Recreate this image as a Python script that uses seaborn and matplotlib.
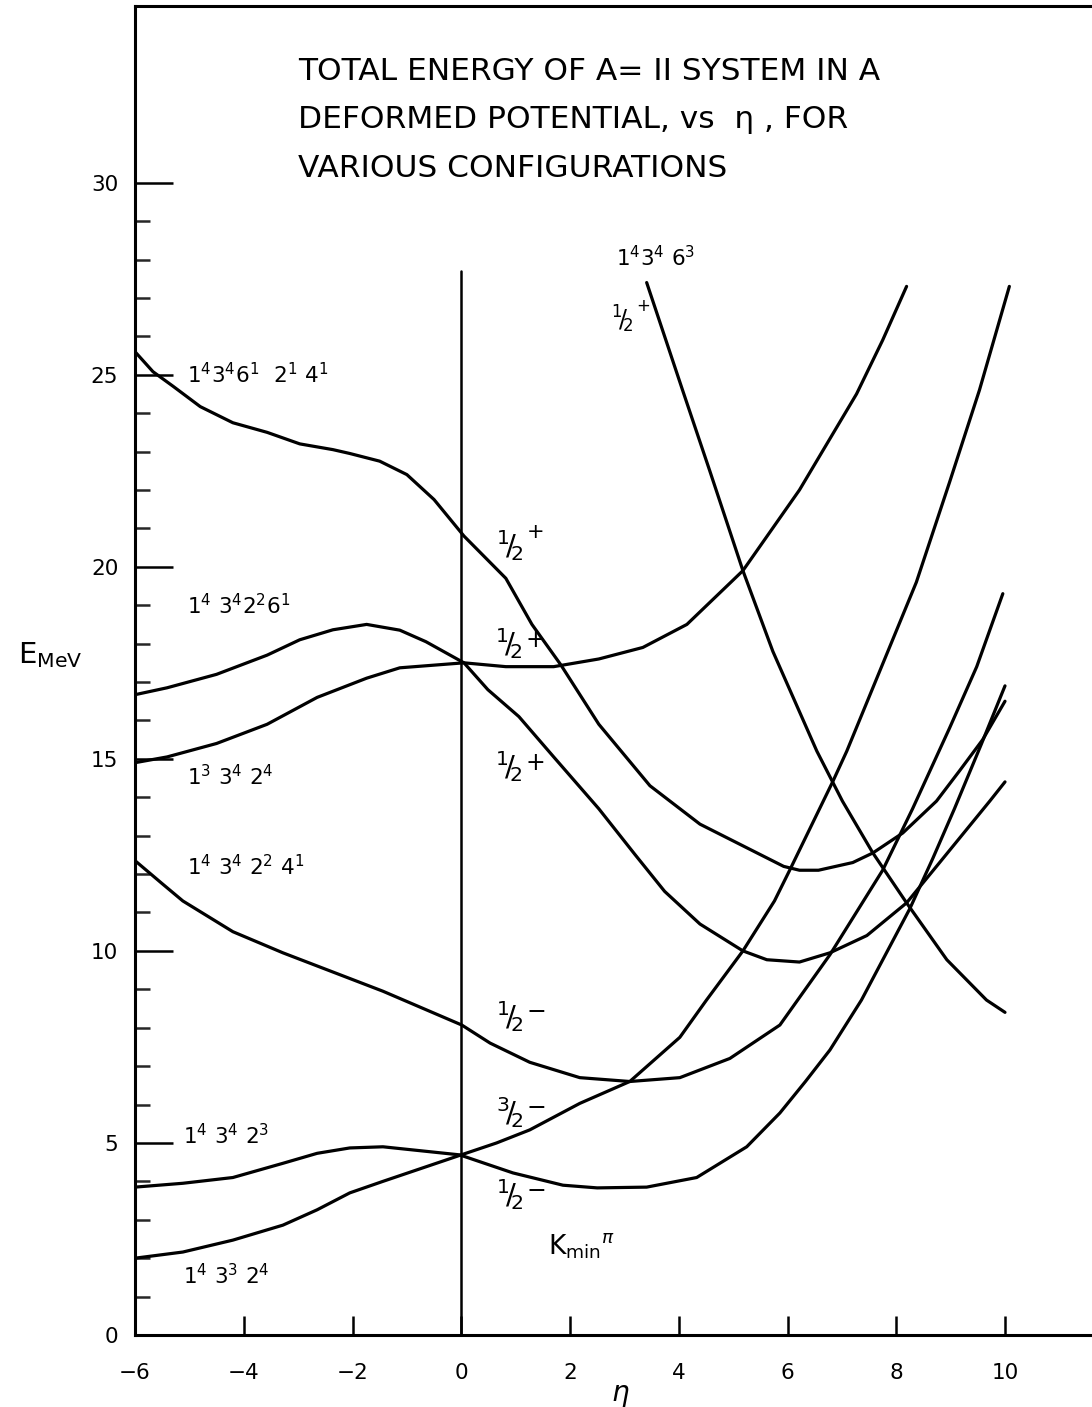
import numpy as np
import pandas as pd
import matplotlib
matplotlib.use("Agg")
import matplotlib.pyplot as plt
import seaborn as sns

# ---- configuration curves: deformation eta vs total energy E (MeV) ----
eta_A = [-6.0, -5.67, -5.3, -4.8, -4.2, -3.57, -2.97, -2.36, -2.05, -1.5, -1.0, -0.5,
         0.05, 0.82, 1.3, 1.83, 2.53, 3.47, 4.39, 5.3, 5.93, 6.22, 6.57, 7.2, 7.57, 8.12,
         8.74, 9.17, 9.59, 10.0]
E_A = [25.6, 25.08, 24.7, 24.17, 23.75, 23.5, 23.2, 23.05, 22.95, 22.75, 22.4, 21.75,
       20.8, 19.7, 18.5, 17.45, 15.9, 14.3, 13.3, 12.65, 12.2, 12.1, 12.1, 12.3, 12.55, 13.07,
       13.9, 14.7, 15.5, 16.5]

eta_B = [-6.0, -5.41, -4.5, -3.57, -2.97, -2.36, -1.74, -1.13, -0.65, 0.05, 0.49, 1.06,
         1.7, 2.53, 3.2, 3.74, 4.39, 5.18, 5.62, 6.22, 6.78, 7.46, 8.19, 8.74, 9.72, 10.0]
E_B = [16.67, 16.85, 17.2, 17.7, 18.1, 18.36, 18.5, 18.35, 18.05, 17.5, 16.8, 16.1,
       15.05, 13.7, 12.5, 11.55, 10.7, 10.0, 9.77, 9.71, 9.95, 10.4, 11.25, 12.2, 13.9, 14.4]

eta_C = [-6.0, -5.41, -4.5, -3.57, -2.65, -1.74, -1.13, 0.05, 0.82, 1.7, 2.53, 3.34,
         4.15, 4.96, 5.18, 6.22, 7.27, 7.75, 8.19]
E_C = [14.9, 15.05, 15.4, 15.9, 16.6, 17.1, 17.37, 17.5, 17.4, 17.4, 17.6, 17.9,
       18.5, 19.6, 19.9, 22.0, 24.5, 25.9, 27.3]

eta_D = [-6.0, -5.5, -5.12, -4.2, -3.28, -2.36, -1.44, 0.01, 0.53, 1.26, 2.18, 3.1,
         4.02, 4.94, 5.86, 6.78, 7.75, 8.3, 8.98, 9.48, 9.96]
E_D = [12.35, 11.75, 11.3, 10.5, 9.95, 9.45, 8.95, 8.07, 7.6, 7.1, 6.7, 6.6,
       6.7, 7.2, 8.07, 9.9, 12.1, 13.7, 15.8, 17.4, 19.3]

eta_E = [-6.0, -5.12, -4.2, -3.28, -2.65, -2.05, -1.44, -0.03, 0.95, 1.87, 2.5, 3.41,
         4.33, 5.25, 5.86, 6.33, 6.78, 7.36, 8.25, 8.67, 9.07, 9.57, 10.0]
E_E = [3.85, 3.95, 4.1, 4.47, 4.73, 4.87, 4.9, 4.69, 4.22, 3.9, 3.83, 3.85,
       4.1, 4.9, 5.78, 6.6, 7.42, 8.72, 11.1, 12.4, 13.7, 15.4, 16.9]

eta_F = [-6.0, -5.12, -4.2, -3.28, -2.65, -2.05, -1.44, 0.0, 0.65, 1.26, 2.18, 3.1,
         4.02, 4.51, 5.18, 5.76, 6.04, 6.83, 7.09, 8.37, 8.98, 9.53, 10.08]
E_F = [2.0, 2.16, 2.47, 2.86, 3.26, 3.7, 4.0, 4.69, 5.0, 5.34, 6.03, 6.6,
       7.75, 8.72, 10.0, 11.3, 12.1, 14.4, 15.2, 19.6, 22.2, 24.6, 27.3]

eta_G = [3.41, 4.07, 4.57, 5.18, 5.73, 6.54, 7.01, 7.57, 8.19, 8.93, 9.66, 10.0]
E_G = [27.4, 24.6, 22.5, 19.9, 17.8, 15.2, 13.9, 12.55, 11.25, 9.77, 8.72, 8.4]

curve_names = ["A", "B", "C", "D", "E", "F", "G"]
curve_eta = [eta_A, eta_B, eta_C, eta_D, eta_E, eta_F, eta_G]
curve_E = [E_A, E_B, E_C, E_D, E_E, E_F, E_G]

# configuration labels (text, eta, E)
config_labels = [
    (r"$\mathregular{1^4 3^4 6^1\ \ 2^1\ 4^1}$", -5.04, 25.0),
    (r"$\mathregular{1^4\ 3^4 2^2 6^1}$", -5.04, 19.0),
    (r"$\mathregular{1^3\ 3^4\ 2^4}$", -5.04, 14.55),
    (r"$\mathregular{1^4\ 3^4\ 2^2\ 4^1}$", -5.04, 12.2),
    (r"$\mathregular{1^4\ 3^4\ 2^3}$", -5.12, 5.2),
    (r"$\mathregular{1^4\ 3^3\ 2^4}$", -5.12, 1.55),
    (r"$\mathregular{1^4 3^4\ 6^3}$", 2.84, 28.05),
]

# K^pi labels: (numerator, sign, eta, E, raised sign)
k_labels = [
    ("1", "+", 0.64, 20.55, True),
    ("1", "+", 0.62, 18.0, False),
    ("1", "+", 0.62, 14.8, False),
    ("1", "\u2212", 0.64, 8.3, False),
    ("3", "\u2212", 0.64, 5.8, False),
    ("1", "\u2212", 0.64, 3.65, False),
]
top_k_label = ("1", "+", 2.76, 26.45)

title_lines = [
    "TOTAL ENERGY OF A= II SYSTEM IN A",
    "DEFORMED POTENTIAL, vs  \u03b7 , FOR",
    "VARIOUS CONFIGURATIONS",
]

x_ticks = [-6, -4, -2, 0, 2, 4, 6, 8, 10]
y_ticks = [0, 5, 10, 15, 20, 25, 30]
y_minor = [v for v in range(0, 31) if v % 5 != 0]

# ---- long-form table for seaborn ----
rows = []
for name, xs, ys in zip(curve_names, curve_eta, curve_E):
    for i, (x, y) in enumerate(zip(xs, ys)):
        rows.append({"curve": name, "order": i, "eta": x, "E": y})
df = pd.DataFrame(rows)

sns.set_theme(style="white")
plt.rcParams["font.family"] = ["DejaVu Sans"]
plt.rcParams["mathtext.fontset"] = "dejavusans"
plt.rcParams["axes.unicode_minus"] = True

W, H = 1092, 1407
fig = plt.figure(figsize=(W / 100, H / 100), dpi=100)
ax = fig.add_axes([135 / W, (H - 1335) / H, (W - 135) / W, (1335 - 6) / H])
ax.set_facecolor("white")

sns.lineplot(data=df, x="eta", y="E", units="curve", estimator=None, sort=False,
             color="black", linewidth=2.3, legend=False, ax=ax)

# vertical reference line at eta = 0
ax.plot([0, 0], [0, 27.7], color="black", linewidth=1.8)

ax.set_xlim(-6, 11.6)
ax.set_ylim(0, 34.6)
ax.set_xlabel("")
ax.set_ylabel("")

for side in ["left", "bottom", "top"]:
    ax.spines[side].set_visible(True)
    ax.spines[side].set_color("black")
    ax.spines[side].set_linewidth(2.2)
ax.spines["right"].set_visible(False)

ax.set_xticks(x_ticks)
ax.set_xticklabels([f"{t}".replace("-", "\u2212") for t in x_ticks])
ax.set_yticks(y_ticks)
ax.set_yticks(y_minor, minor=True)
ax.tick_params(axis="x", direction="in", length=14, width=1.8, labelsize=15.5, pad=20,
               bottom=True, top=False, colors="black")
ax.tick_params(axis="y", which="major", direction="in", length=27, width=1.8,
               labelsize=15.5, pad=12, left=True, right=False, colors="black")
ax.tick_params(axis="y", which="minor", direction="in", length=11, width=1.8,
               left=True, right=False)
ax.grid(False)

for txt, x, y in config_labels:
    ax.text(x, y, txt, fontsize=15.5, ha="left", va="center", color="black")

# fraction-style K labels: small raised numerator, slash, lowered 2, parity sign
for num, sign, x, y, raised in k_labels:
    ax.text(x, y, r"$\mathregular{^%s\!/\!_2}$" % num, fontsize=21, ha="left",
            va="center", color="black")
    ax.text(x + 0.56, y + (0.35 if raised else 0.1), sign, fontsize=15 if raised else 17,
            ha="left", va="center", color="black")
num, sign, x, y = top_k_label
ax.text(x, y, r"$\mathregular{^%s\!/\!_2}$" % num, fontsize=17, ha="left",
        va="center", color="black")
ax.text(x + 0.45, y + 0.35, sign, fontsize=12, ha="left", va="center", color="black")

ax.text(1.6, 2.3, r"$\mathregular{K_{min}}^{\pi}$", fontsize=19, ha="left",
        va="center", color="black")

for i, line in enumerate(title_lines):
    ax.text(-3.0, 32.9 - i * 1.26, line, fontsize=22.5, ha="left", va="center",
            color="black")

ax.text(-7.55, 17.7, r"$\mathregular{E_{MeV}}$", fontsize=21, ha="center",
        va="center", clip_on=False, color="black")
ax.text(2.92, -1.55, r"$\eta$", fontsize=20, ha="center", va="center",
        clip_on=False, color="black")

fig.savefig("out.png", dpi=100, facecolor="white")
